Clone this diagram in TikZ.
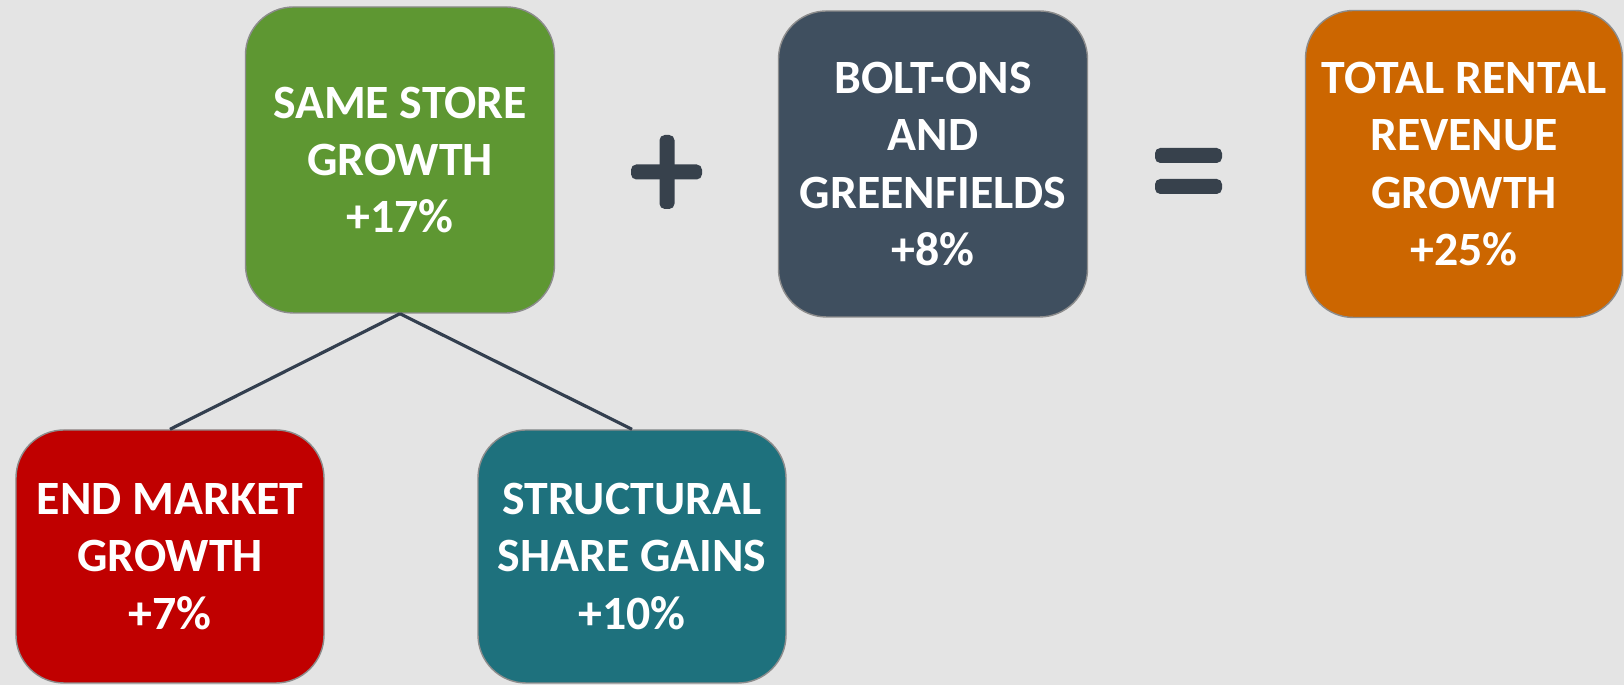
\documentclass[tikz,border=0pt]{standalone}
\usepackage{fontspec}
\setmainfont{Carlito}
\usepackage{tikz}
\usetikzlibrary{positioning}

\definecolor{bgc}{HTML}{E4E4E4}
\definecolor{sssc}{HTML}{5E9732}
\definecolor{boltc}{HTML}{3F4F5F}
\definecolor{totalc}{HTML}{CC6600}
\definecolor{endc}{HTML}{C00000}
\definecolor{sharec}{HTML}{1E717D}
\definecolor{signc}{HTML}{37414C}
\definecolor{linec}{HTML}{333F4F}

\begin{document}
\begin{tikzpicture}[line width=0.9pt, font=\fontsize{13.6}{16.3}\selectfont\bfseries]
	\tikzset{box/.style={draw=gray!90, line width=0.4pt, rounded corners=0.48cm, text=white, align=center, inner sep=0pt, minimum width=3.09cm, minimum height=3.06cm}}
	\tikzset{low/.style={box, minimum width=3.08cm, minimum height=2.53cm}}
	\fill[bgc] (0,0) rectangle (16.24,6.85);
	\useasboundingbox (0,0) rectangle (16.24,6.85);
	\node[box, fill=sssc] (sss) at (4.00,5.25) {SAME STORE\\GROWTH\\+17\%};
	\node[box, fill=boltc] (bolt) at (9.33,5.21) {BOLT-ONS\\AND\\GREENFIELDS\\+8\%};
	\node[box, fill=totalc, minimum width=3.17cm, minimum height=3.07cm] (total) at (14.64,5.21) {TOTAL RENTAL\\REVENUE\\GROWTH\\+25\%};
	\node[low, fill=endc] (endm) at (1.70,1.285) {END MARKET\\GROWTH\\+7\%};
	\node[low, fill=sharec] (share) at (6.32,1.285) {STRUCTURAL\\SHARE GAINS\\+10\%};
	% plus and equals signs
	\fill[signc, rounded corners=1.5pt] (6.31,5.055) rectangle (7.02,5.205);
	\fill[signc, rounded corners=1.5pt] (6.595,4.76) rectangle (6.745,5.50);
	\fill[signc, rounded corners=1.5pt] (11.55,5.22) rectangle (12.22,5.37);
	\fill[signc, rounded corners=1.5pt] (11.55,4.91) rectangle (12.22,5.06);
	\path[draw=linec]
		(sss.south)
			edge (endm.north)
			edge (share.north);
\end{tikzpicture}
\end{document}
